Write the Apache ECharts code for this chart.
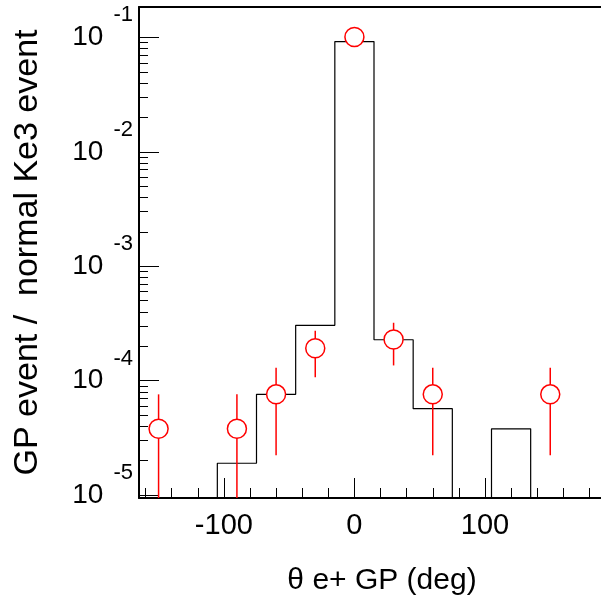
<!DOCTYPE html>
<html><head><meta charset="utf-8">
<script src="https://cdn.jsdelivr.net/npm/echarts@6/dist/echarts.min.js"></script>
<style>html,body{margin:0;padding:0;background:#fff}#c{width:601px;height:604px}</style>
</head><body><div id="c"></div>
<script>
// ---- data ----
const binCenters = [-150, -120, -90, -60, -30, 0, 30, 60, 90, 120, 150, 180];
const histValues = [0, 0, 1.9e-5, 7.6e-5, 3.05e-4, 0.092, 2.28e-4, 5.7e-5, 0, 3.8e-5, 0, 0];
const dataX = [-150, -90, -60, -30, 0, 30, 60, 150];
const dataY = [3.8e-5, 3.8e-5, 7.6e-5, 1.92e-4, 0.101, 2.29e-4, 7.6e-5, 7.6e-5];
const dataLow = [0, 0, 2.23e-5, 1.07e-4, 0.0995, 1.36e-4, 2.23e-5, 2.23e-5];
const dataHigh = [7.6e-5, 7.6e-5, 1.30e-4, 2.73e-4, 0.1025, 3.21e-4, 1.30e-4, 1.30e-4];
const xTickLabels = [-100, 0, 100];
const xMinorTicks = [-160, -140, -120, -80, -60, -40, -20, 20, 40, 60, 80, 120, 140, 160, 180];
const yDecades = [-5, -4, -3, -2, -1];

// ---- axis ranges ----
const X_MIN = -165, X_MAX = 195;
const Y_MIN = -5.025, Y_MAX = -0.734;
const FONT = 'Liberation Sans, Arial, sans-serif';

const lg = v => Math.max(v > 0 ? Math.log10(v) : -Infinity, Y_MIN);

const binW = binCenters[1] - binCenters[0];
const histLine = [];
binCenters.forEach((c, i) => {
  histLine.push([c - binW / 2, lg(histValues[i])]);
  histLine.push([c + binW / 2, lg(histValues[i])]);
});

const yMinor = [];
for (let n = -6; n <= 0; n++) {
  for (let k = 2; k <= 9; k++) {
    const v = Math.log10(k) + n;
    if (v > Y_MIN && v < Y_MAX) yMinor.push(v);
  }
}

const chart = echarts.init(document.getElementById('c'), null, {renderer: 'canvas'});
chart.setOption({
  animation: false,
  backgroundColor: '#fff',
  textStyle: {fontFamily: FONT, color: '#000'},
  grid: {left: 139, top: 7, right: -8, bottom: 106, containLabel: false, outerBoundsMode: 'none'},
  xAxis: [
    {
      type: 'value', min: X_MIN, max: X_MAX, position: 'bottom',
      axisLine: {show: true, onZero: false, lineStyle: {color: '#000', width: 2}},
      axisTick: {show: true, inside: true, length: 20, customValues: xTickLabels, lineStyle: {color: '#000', width: 1}},
      axisLabel: {show: true, customValues: xTickLabels, margin: 13, fontSize: 29, fontFamily: FONT, color: '#000'},
      splitLine: {show: false},
      name: 'θ e+ GP (deg)', nameLocation: 'middle', nameGap: 68,
      nameTextStyle: {fontSize: 30, fontFamily: FONT, color: '#000', padding: [0, 0, 0, 16]}
    },
    {
      type: 'value', min: X_MIN, max: X_MAX, position: 'bottom',
      axisLine: {show: false, onZero: false},
      axisTick: {show: true, inside: true, length: 10, customValues: xMinorTicks, lineStyle: {color: '#000', width: 1}},
      axisLabel: {show: false}, splitLine: {show: false}
    },
    {
      type: 'value', min: X_MIN, max: X_MAX, position: 'top',
      axisLine: {show: true, onZero: false, lineStyle: {color: '#000', width: 2}},
      axisTick: {show: false}, axisLabel: {show: false}, splitLine: {show: false}
    }
  ],
  yAxis: [
    {
      type: 'value', min: Y_MIN, max: Y_MAX, position: 'left',
      axisLine: {show: true, onZero: false, lineStyle: {color: '#000', width: 2}},
      axisTick: {show: true, inside: true, length: 20, customValues: yDecades, lineStyle: {color: '#000', width: 1}},
      axisLabel: {
        show: true, customValues: yDecades, margin: 6,
        formatter: v => '{b|10}{e|' + v + '}',
        rich: {
          b: {fontSize: 28, lineHeight: 64, verticalAlign: 'middle', fontFamily: FONT, color: '#000'},
          e: {fontSize: 22, lineHeight: 20, height: 20, verticalAlign: 'top', padding: [0, 0, 0, 10], fontFamily: FONT, color: '#000'}
        }
      },
      splitLine: {show: false},
      name: 'GP event /  normal Ke3 event', nameLocation: 'middle', nameGap: 94,
      nameTextStyle: {fontSize: 34, fontFamily: FONT, color: '#000'}
    },
    {
      type: 'value', min: Y_MIN, max: Y_MAX, position: 'left',
      axisLine: {show: false, onZero: false},
      axisTick: {show: true, inside: true, length: 9, customValues: yMinor, lineStyle: {color: '#000', width: 1}},
      axisLabel: {show: false}, splitLine: {show: false}
    }
  ],
  series: [
    {
      type: 'line', xAxisIndex: 0, yAxisIndex: 0,
      data: histLine, symbol: 'none', clip: false,
      lineStyle: {color: '#000', width: 1.2}, silent: true, z: 2
    },
    {
      type: 'custom', xAxisIndex: 0, yAxisIndex: 0, z: 3, silent: true,
      data: dataX.map((x, i) => [x, lg(dataLow[i]), lg(dataHigh[i])]),
      encode: {x: 0, y: [1, 2]},
      renderItem: (params, api) => {
        const x = api.value(0);
        const a = api.coord([x, api.value(1)]);
        const b = api.coord([x, api.value(2)]);
        return {type: 'line', shape: {x1: a[0], y1: a[1], x2: b[0], y2: b[1]},
                style: {stroke: '#ff0000', lineWidth: 1.5}};
      }
    },
    {
      type: 'scatter', xAxisIndex: 0, yAxisIndex: 0, z: 4, silent: true,
      data: dataX.map((x, i) => [x, lg(dataY[i])]),
      symbol: 'circle', symbolSize: 19,
      itemStyle: {color: '#fff', borderColor: '#ff0000', borderWidth: 1.5, opacity: 1}
    }
  ]
});
</script></body></html>
